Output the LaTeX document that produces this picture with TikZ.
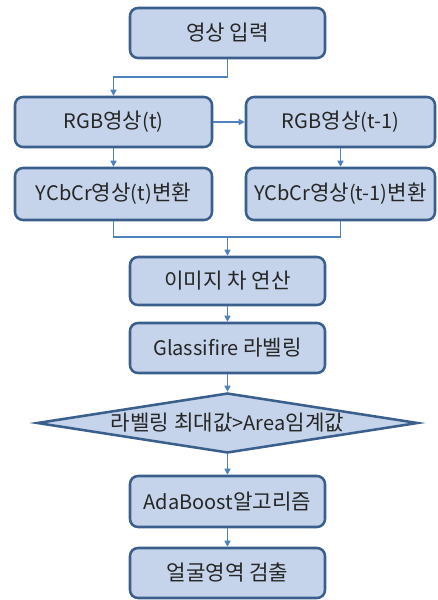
\documentclass[tikz,border=0pt]{standalone}
\usepackage{fontspec}
\setmainfont{Noto Sans CJK KR}
\newfontfamily\kof[Scale=1.06]{Noto Sans CJK KR}
\newcommand\K[1]{{\kof #1}}
\usetikzlibrary{arrows.meta,shapes.geometric}
\definecolor{boxfill}{HTML}{C5D4EA}
\definecolor{boxline}{HTML}{3A5F8C}
\definecolor{conn}{HTML}{4F81BD}
\tikzset{
  box/.style={draw=boxline, fill=boxfill, line width=1.9pt, rounded corners=6pt,
    inner sep=0pt, font=\fontsize{15}{17}\selectfont, text=black!85},
  dia/.style={draw=boxline, fill=boxfill, line width=1.9pt, shape=diamond,
    inner sep=0pt, aspect=6.35, font=\fontsize{15}{17}\selectfont, text=black!85},
  arr/.style={draw=conn, line width=1.1pt, -{Triangle[length=4.5pt,width=4.5pt]}},
  ln/.style={draw=conn, line width=1.1pt}
}
\begin{document}
\begin{tikzpicture}[x=0.75pt,y=-0.75pt]
\useasboundingbox (0,0) rectangle (437,600);
\node[box, minimum width=195*0.75pt, minimum height=50*0.75pt] (b1) at (227.5,33) {\K{영상 입력}};
\node[box, minimum width=197*0.75pt, minimum height=50*0.75pt] (b2) at (113.5,122) {RGB\K{영상}(t)};
\node[box, minimum width=189*0.75pt, minimum height=50*0.75pt] (b3) at (340.5,122) {RGB\K{영상}(t-1)};
\node[box, minimum width=197*0.75pt, minimum height=52*0.75pt] (b4) at (113.5,194) {YCbCr\K{영상}(t)\K{변환}};
\node[box, minimum width=189*0.75pt, minimum height=52*0.75pt] (b5) at (340.5,194) {YCbCr\K{영상}(t-1)\K{변환}};
\node[box, minimum width=195*0.75pt, minimum height=48*0.75pt] (b6) at (227.5,281) {\K{이미지 차 연산}};
\node[box, minimum width=195*0.75pt, minimum height=50*0.75pt] (b7) at (227.5,348) {Glassifire \K{라벨링}};
\node[dia, minimum width=381*0.75pt, minimum height=60*0.75pt] (d) at (227.5,423) {\K{라벨링 최대값}>Area\K{임계값}};
\node[box, minimum width=195*0.75pt, minimum height=51*0.75pt] (b8) at (227.5,501.5) {AdaBoost\K{알고리즘}};
\node[box, minimum width=195*0.75pt, minimum height=50*0.75pt] (b9) at (227.5,573) {\K{얼굴영역 검출}};
\coordinate (j1) at (113.5,77);
\coordinate (j2) at (227.5,237);
\draw[arr] (b1.south) |- (j1) -- (b2.north);
\draw[arr] (b2.east) -- (b3.west);
\draw[arr] (b2.south) -- (b4.north);
\draw[arr] (b3.south) -- (b5.north);
\draw[ln] (b4.south) |- (j2);
\draw[ln] (b5.south) |- (j2);
\draw[arr] (j2) -- (b6.north);
\draw[arr] (b6.south) -- (b7.north);
\draw[arr] (b7.south) -- (d.north);
\draw[arr] (d.south) -- (b8.north);
\draw[arr] (b8.south) -- (b9.north);
\end{tikzpicture}
\end{document}
